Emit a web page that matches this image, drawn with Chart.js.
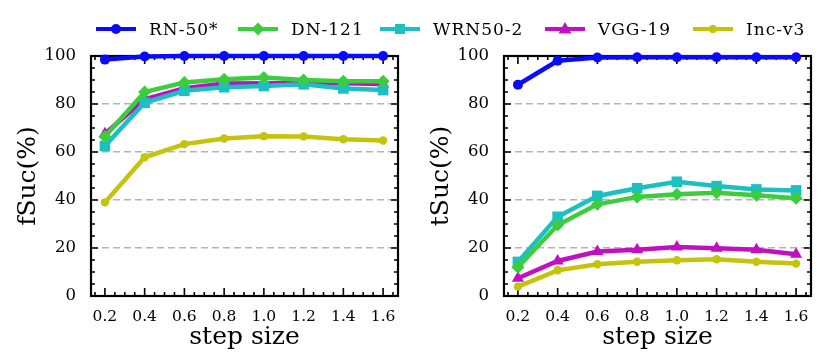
<!DOCTYPE html>
<html>
<head>
<meta charset="utf-8">
<script src="https://cdn.jsdelivr.net/npm/chart.js@4.4.1/dist/chart.umd.min.js"></script>
<style>
 body { margin: 0; background: #fff; }
 #wrap { position: relative; width: 830px; height: 364px; overflow: hidden; font-family: 'DejaVu Serif', serif; }
 .pane { position: absolute; top: 0; width: 415px; height: 364px; }
 .lg { position: absolute; top: 19px; display: flex; align-items: center; font-size: 17px; letter-spacing: 1px; color: #000; }
 .lg svg { margin-right: 13px; }
</style>
</head>
<body>
<div id="wrap">
 <div class="pane" style="left:1px"><canvas id="left" width="415" height="364"></canvas></div>
 <div class="pane" style="left:414px"><canvas id="right" width="415" height="364"></canvas></div>
 <div id="legend"></div>
</div>
<script>
/* ── DATA ────────────────────────────────────────────────── */
const steps = [0.2, 0.4, 0.6, 0.8, 1.0, 1.2, 1.4, 1.6];
const yTicks = [0, 20, 40, 60, 80, 100];
const models = ['RN-50*', 'DN-121', 'WRN50-2', 'VGG-19', 'Inc-v3'];

// fSuc (%)
const rn50F  = [98.5, 99.8, 100, 100, 100, 100, 100, 100];
const dn121F = [66.5, 85, 89, 90.3, 91, 90, 89.5, 89.5];
const wrnF   = [62.5, 80.5, 85.5, 87, 87.5, 88.2, 86.5, 85.8];
const vggF   = [67.6, 82, 86.6, 88.5, 88.6, 88.6, 88.6, 88.3];
const incF   = [39, 57.8, 63.3, 65.6, 66.6, 66.5, 65.3, 64.8];

// tSuc (%)
const rn50T  = [88, 98, 99.4, 99.5, 99.5, 99.5, 99.5, 99.5];
const dn121T = [12, 29.6, 38.2, 41.3, 42.4, 43, 42, 40.7];
const wrnT   = [14.2, 33, 41.7, 44.9, 47.6, 45.8, 44.4, 44];
const vggT   = [7.4, 14.6, 18.5, 19.3, 20.4, 19.9, 19.3, 17.4];
const incT   = [3.9, 10.7, 13.2, 14.3, 14.9, 15.3, 14.3, 13.5];

/* ── STYLE ───────────────────────────────────────────────── */
const styles = [
 { color: '#0a0aff', point: 'circle',    r: 5 },
 { color: '#3ccd3c', point: 'rectRot',   r: 6.5 },
 { color: '#1cc0c0', point: 'rect',      r: 7.5 },
 { color: '#c010c0', point: 'triangle',  r: 7 },
 { color: '#c4c40c', point: 'circle',    r: 4.2 }
];
const SERIF = "'DejaVu Serif', serif";

function makeSets(series) {
 return series.map((vals, i) => ({
  label: models[i],
  data: vals.map((v, j) => ({ x: steps[j], y: v })),
  borderColor: styles[i].color,
  backgroundColor: styles[i].color,
  borderWidth: 4.5,
  pointStyle: styles[i].point,
  pointRadius: styles[i].r,
  pointBorderWidth: 0,
  pointHoverRadius: styles[i].r,
  tension: 0,
  clip: false
 }));
}

/* ── FRAME + INWARD TICKS ────────────────────────────────── */
const frame = {
 id: 'frame',
 beforeDatasetsDraw(chart) {
  const { ctx, chartArea: a, scales: { x, y } } = chart;
  ctx.save();
  ctx.strokeStyle = '#000';
  ctx.lineWidth = 1.6;
  ctx.beginPath();
  for (let v = 0; v <= 100; v += 5) {
   const py = y.getPixelForValue(v), len = v % 20 === 0 ? 7 : 4;
   ctx.moveTo(a.left, py); ctx.lineTo(a.left + len, py);
   ctx.moveTo(a.right, py); ctx.lineTo(a.right - len, py);
  }
  for (let k = 3; k <= 33; k++) {
   const px = x.getPixelForValue(k * 0.05), len = k % 4 === 0 ? 8 : 4;
   ctx.moveTo(px, a.bottom); ctx.lineTo(px, a.bottom - len);
   ctx.moveTo(px, a.top); ctx.lineTo(px, a.top + len);
  }
  ctx.stroke();
  ctx.lineWidth = 2.2;
  ctx.strokeRect(a.left, a.top, a.right - a.left, a.bottom - a.top);
  ctx.restore();
 }
};

function makeChart(id, series, yTitle) {
 return new Chart(document.getElementById(id), {
  type: 'line',
  data: { datasets: makeSets(series) },
  options: {
   responsive: false,
   animation: false,
   events: [],
   layout: { padding: { top: 56, right: 18, left: 0, bottom: 0 } },
   plugins: { legend: { display: false }, tooltip: { enabled: false } },
   scales: {
    x: {
     type: 'linear', min: 0.13, max: 1.675,
     afterBuildTicks: s => { s.ticks = steps.map(v => ({ value: v })); },
     afterFit: s => { s.height = 68; },
     grid: { display: false, drawTicks: false },
     border: { display: false },
     ticks: { autoSkip: false, maxRotation: 0, padding: 12, color: '#000',
      font: { family: SERIF, size: 15.5 }, callback: v => Number(v).toFixed(1) },
     title: { display: true, text: 'step size', color: '#000',
      font: { family: SERIF, size: 25 }, padding: { top: 0, bottom: 12 } }
    },
    y: {
     min: 0, max: 100,
     afterBuildTicks: s => { s.ticks = yTicks.map(v => ({ value: v })); },
     afterFit: s => { s.width = 90; },
     grid: {
      drawTicks: false, lineWidth: 1.5,
      color: c => (c.tick && c.tick.value > 0 && c.tick.value < 100) ? '#b4b4b4' : 'rgba(0,0,0,0)'
     },
     border: { display: false, dash: [7, 4] },
     ticks: { padding: 15, color: '#000', font: { family: SERIF, size: 16.5 } },
     title: { display: true, text: yTitle, color: '#000',
      font: { family: SERIF, size: 25 }, padding: { top: 12, bottom: 0 } }
    }
   }
  },
  plugins: [frame]
 });
}

makeChart('left', [rn50F, dn121F, wrnF, vggF, incF], 'fSuc(%)');
makeChart('right', [rn50T, dn121T, wrnT, vggT, incT], 'tSuc(%)');

/* ── LEGEND ──────────────────────────────────────────────── */
const legendX = [96, 238, 380, 545, 693];
function marker(st) {
 const c = st.color;
 if (st.point === 'circle') return `<circle cx="20" cy="8" r="${st.r}" fill="${c}"/>`;
 if (st.point === 'rectRot') return `<polygon points="20,1.5 26.5,8 20,14.5 13.5,8" fill="${c}"/>`;
 if (st.point === 'rect') return `<rect x="15" y="3" width="10" height="10" fill="${c}"/>`;
 return `<polygon points="20,1 26.5,12.5 13.5,12.5" fill="${c}"/>`;
}
document.getElementById('legend').innerHTML = models.map((m, i) => `
 <div class="lg" style="left:${legendX[i]}px">
  <svg width="40" height="16"><line x1="0" y1="8" x2="40" y2="8" stroke="${styles[i].color}" stroke-width="4"/>${marker(styles[i])}</svg>
  <span>${m}</span>
 </div>`).join('');
</script>
</body>
</html>
